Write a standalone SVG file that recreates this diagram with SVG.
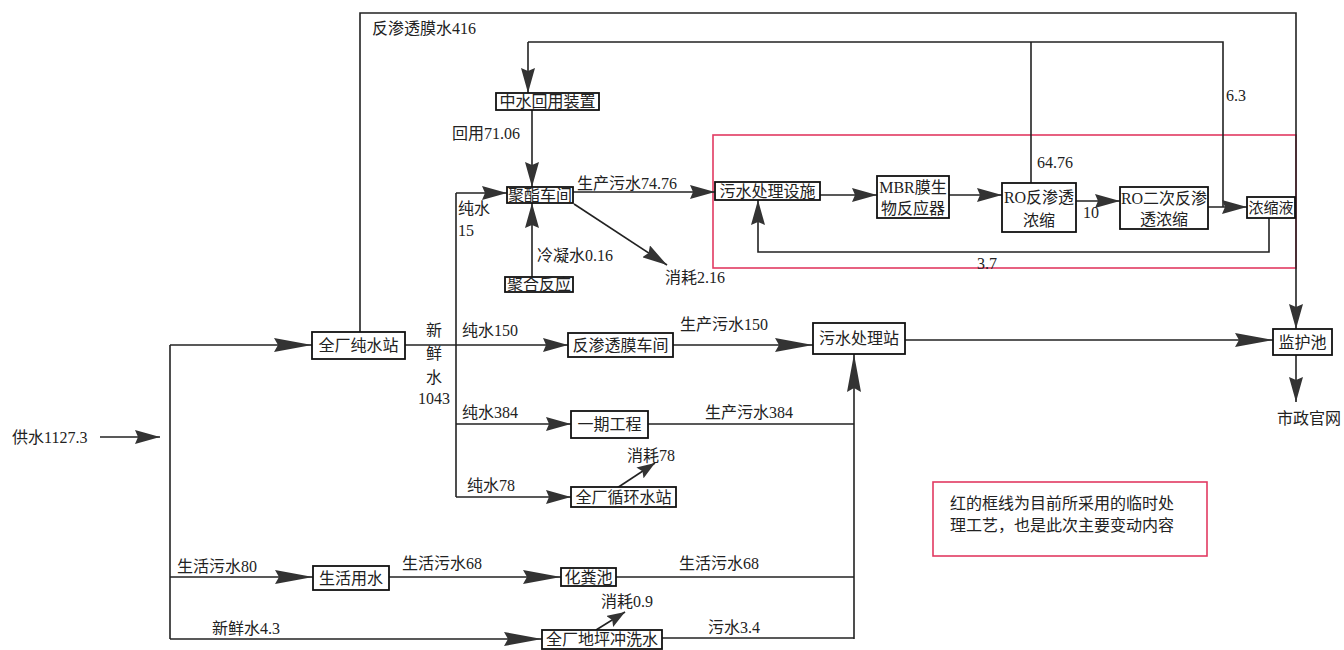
<svg xmlns="http://www.w3.org/2000/svg" width="1344" height="650" viewBox="0 0 1344 650">
<style>
text{font-family:"Liberation Serif","Noto Sans CJK SC",serif;font-size:16px;fill:#222;dominant-baseline:central}
.c{text-anchor:middle}
.box{fill:#fff;stroke:#111;stroke-width:1.8}
.ln{fill:none;stroke:#222;stroke-width:1.6}
.a{marker-end:url(#arr)}
.L{marker-end:url(#arrL)}
.s{marker-end:url(#arrS)}
.red{fill:none;stroke:#e23a62;stroke-width:1.6}
</style>
<defs>
<marker id="arr" markerUnits="userSpaceOnUse" markerWidth="25" markerHeight="14" refX="25" refY="7" orient="auto"><path d="M0,0 L25,7 L0,14 L3,7 z" fill="#333"/></marker>
<marker id="arrL" markerUnits="userSpaceOnUse" markerWidth="38" markerHeight="14" refX="38" refY="7" orient="auto"><path d="M0,0 L38,7 L0,14 L4,7 z" fill="#333"/></marker>
<marker id="arrS" markerUnits="userSpaceOnUse" markerWidth="18" markerHeight="13" refX="18" refY="6.5" orient="auto"><path d="M0,0 L18,6.5 L0,13 L3,6.5 z" fill="#333"/></marker>
</defs>
<rect width="1344" height="650" fill="#fff"/>
<rect class="red" x="713" y="135" width="583" height="133"/>
<g id="connectors">
<path class="ln a" d="M100,437 H160"/>
<path class="ln" d="M170,345 V639"/>
<path class="ln L" d="M170,345 H312"/>
<path class="ln a" d="M360,332 V13 H1296 V329"/>
<path class="ln" d="M405,345 H456"/>
<path class="ln" d="M456,193 V497"/>
<path class="ln a" d="M456,193 H507"/>
<path class="ln a" d="M456,345 H568"/>
<path class="ln a" d="M456,424 H571"/>
<path class="ln a" d="M456,497 H571"/>
<path class="ln L" d="M673,345 H813"/>
<path class="ln L" d="M905,340 H1273"/>
<path class="ln a" d="M1296,355 V402"/>
<path class="ln" d="M648,424 H854"/>
<path class="ln L" d="M854,639 V354"/>
<path class="ln" d="M616,577 H854"/>
<path class="ln" d="M662,638 H854"/>
<path class="ln L" d="M170,577 H313"/>
<path class="ln L" d="M389,577 H561"/>
<path class="ln L" d="M170,639 H542"/>
<path class="ln s" d="M617,488 L655,463"/>
<path class="ln s" d="M596,630 L625,612"/>
<path class="ln a" d="M528,42 V93"/>
<path class="ln" d="M1031,183 V42"/>
<path class="ln" d="M528,42 H1223 V207"/>
<path class="ln a" d="M532,110 V187"/>
<path class="ln a" d="M532,277 V203"/>
<path class="ln a" d="M573,192 H715"/>
<path class="ln a" d="M574,204 L667,265"/>
<path class="ln a" d="M820,195 H877"/>
<path class="ln a" d="M949,195 H1002"/>
<path class="ln a" d="M1076,201 H1120"/>
<path class="ln a" d="M1208,207 H1247"/>
<path class="ln a" d="M1269,218 V252 H758 V200"/>
</g>
<g id="n-zhongshui"><rect class="box" x="496" y="93" width="103" height="17"/><text class="c" x="547.5" y="101.5">中水回用装置</text></g>
<g id="n-juzhi"><rect class="box" x="507" y="187" width="66" height="16"/><text class="c" x="540" y="195">聚酯车间</text></g>
<g id="n-juhe"><rect class="box" x="505" y="277" width="68" height="15"/><text class="c" x="539" y="284.5">聚合反应</text></g>
<g id="n-wushuisheshi"><rect class="box" x="715" y="182" width="105" height="18"/><text class="c" x="767.5" y="191">污水处理设施</text></g>
<g id="n-mbr"><rect class="box" x="877" y="176" width="72" height="42"/><text class="c" x="913" y="187">MBR膜生</text><text class="c" x="913" y="208">物反应器</text></g>
<g id="n-ro1"><rect class="box" x="1002" y="183" width="74" height="49"/><text class="c" x="1039" y="197">RO反渗透</text><text class="c" x="1039" y="220">浓缩</text></g>
<g id="n-ro2"><rect class="box" x="1120" y="187" width="88" height="42"/><text class="c" x="1164" y="198">RO二次反渗</text><text class="c" x="1164" y="219">透浓缩</text></g>
<g id="n-nongsuo"><rect class="box" x="1247" y="197" width="48" height="21"/><text class="c" x="1271" y="207.5" style="font-size:15px">浓缩液</text></g>
<g id="n-chunshui"><rect class="box" x="312" y="332" width="93" height="27"/><text class="c" x="358.5" y="345.5">全厂纯水站</text></g>
<g id="n-fanshentou"><rect class="box" x="568" y="333" width="105" height="24"/><text class="c" x="620.5" y="345">反渗透膜车间</text></g>
<g id="n-yiqi"><rect class="box" x="571" y="411" width="77" height="27"/><text class="c" x="609.5" y="424.5">一期工程</text></g>
<g id="n-xunhuan"><rect class="box" x="571" y="487" width="105" height="20"/><text class="c" x="623.5" y="497">全厂循环水站</text></g>
<g id="n-wushuizhan"><rect class="box" x="813" y="323" width="92" height="31"/><text class="c" x="859" y="338.5">污水处理站</text></g>
<g id="n-jianhu"><rect class="box" x="1273" y="329" width="59" height="26"/><text class="c" x="1302.5" y="342">监护池</text></g>
<g id="n-shenghuo"><rect class="box" x="313" y="566" width="76" height="24"/><text class="c" x="351" y="578">生活用水</text></g>
<g id="n-huafen"><rect class="box" x="561" y="568" width="55" height="18"/><text class="c" x="588.5" y="577">化粪池</text></g>
<g id="n-diping"><rect class="box" x="542" y="630" width="120" height="19"/><text class="c" x="602" y="639.5">全厂地坪冲洗水</text></g>
<g id="labels">
<text x="12" y="437">供水1127.3</text>
<text x="372" y="28">反渗透膜水416</text>
<text x="452" y="133">回用71.06</text>
<text x="1226" y="95">6.3</text>
<text x="1037" y="162">64.76</text>
<text x="577" y="183">生产污水74.76</text>
<text x="458" y="208">纯水</text>
<text x="458" y="230">15</text>
<text x="537" y="255">冷凝水0.16</text>
<text x="665" y="277">消耗2.16</text>
<text x="1083" y="212">10</text>
<text x="977" y="263">3.7</text>
<text class="c" x="434" y="330">新</text>
<text class="c" x="434" y="353">鲜</text>
<text class="c" x="434" y="377">水</text>
<text class="c" x="434" y="398">1043</text>
<text x="462" y="330">纯水150</text>
<text x="680" y="324">生产污水150</text>
<text x="462" y="412">纯水384</text>
<text x="705" y="412">生产污水384</text>
<text x="627" y="455">消耗78</text>
<text x="467" y="485">纯水78</text>
<text x="177" y="566">生活污水80</text>
<text x="402" y="563">生活污水68</text>
<text x="679" y="563">生活污水68</text>
<text x="601" y="601">消耗0.9</text>
<text x="212" y="628">新鲜水4.3</text>
<text x="708" y="627">污水3.4</text>
<text class="c" x="1309" y="418">市政官网</text>
</g>
<g id="note">
<rect class="red" x="933" y="482" width="274" height="74"/>
<text x="950" y="503">红的框线为目前所采用的临时处</text>
<text x="950" y="525">理工艺，也是此次主要变动内容</text>
</g>
</svg>
